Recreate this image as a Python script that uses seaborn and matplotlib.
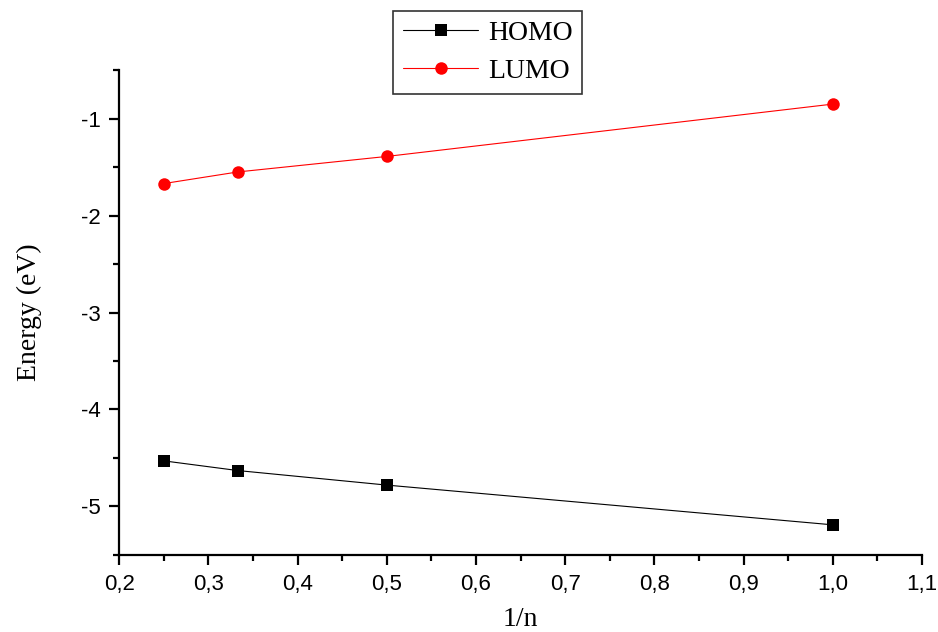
import matplotlib
matplotlib.use("Agg")
import matplotlib.pyplot as plt
import matplotlib.ticker as mticker
from matplotlib.lines import Line2D
import seaborn as sns
import pandas as pd

inv_n = [0.25, 0.333, 0.5, 1.0]
homo = [-4.53, -4.63, -4.78, -5.19]
lumo = [-1.67, -1.55, -1.39, -0.85]
series_names = ["HOMO", "LUMO"]

df = pd.DataFrame({
    "x": inv_n * 2,
    "y": homo + lumo,
    "series": [series_names[0]] * len(inv_n) + [series_names[1]] * len(inv_n),
})

sns.set_style("ticks")
plt.rcParams.update({"text.color": "black", "axes.labelcolor": "black",
                     "xtick.color": "black", "ytick.color": "black",
                     "axes.edgecolor": "black"})
fig = plt.figure(figsize=(9.38, 6.32), dpi=100)
ax = fig.add_axes([0.127, 0.122, 0.856, 0.767])

sns.lineplot(data=df, x="x", y="y", hue="series", style="series",
             markers={"HOMO": "s", "LUMO": "o"}, dashes=False,
             palette={"HOMO": "black", "LUMO": "red"},
             markersize=9, markeredgewidth=0, linewidth=0.8, ax=ax, legend=False)

ax.set_xlim(0.2, 1.1)
ax.set_ylim(-5.5, -0.5)
ax.xaxis.set_major_locator(mticker.MultipleLocator(0.1))
ax.xaxis.set_minor_locator(mticker.MultipleLocator(0.05))
ax.yaxis.set_major_locator(mticker.MultipleLocator(1))
ax.yaxis.set_minor_locator(mticker.MultipleLocator(0.5))
ax.xaxis.set_major_formatter(mticker.FuncFormatter(lambda v, p: f"{v:.1f}".replace(".", ",")))
ax.yaxis.set_major_formatter(mticker.FuncFormatter(lambda v, p: f"{v:.0f}"))

for s in ["top", "right"]:
    ax.spines[s].set_visible(False)
for s in ["left", "bottom"]:
    ax.spines[s].set_linewidth(1.6)
ax.tick_params(which="major", direction="out", length=7.5, width=1.6, labelsize=16, pad=6)
ax.tick_params(which="minor", direction="out", length=4, width=1.6)
for lab in ax.get_xticklabels() + ax.get_yticklabels():
    lab.set_fontfamily("Liberation Sans")

ax.set_xlabel("1/n", fontfamily="Liberation Serif", fontsize=20, labelpad=9)
ax.set_ylabel("Energy (eV)", fontfamily="Liberation Serif", fontsize=20, labelpad=28)

handles = [
    Line2D([], [], color="black", marker="s", markersize=9, markeredgewidth=0, linewidth=0.8),
    Line2D([], [], color="red", marker="o", markersize=9, markeredgewidth=0, linewidth=0.8),
]
leg = fig.legend(handles, series_names, loc="upper center", bbox_to_anchor=(0.52, 0.983),
                 prop={"family": "Liberation Serif", "size": 20}, frameon=True, fancybox=False,
                 edgecolor="black", handlelength=2.7, borderpad=0.35, labelspacing=0.45,
                 handletextpad=0.35, borderaxespad=0)
leg.get_frame().set_linewidth(1.2)

fig.savefig("out.png", dpi=100)
